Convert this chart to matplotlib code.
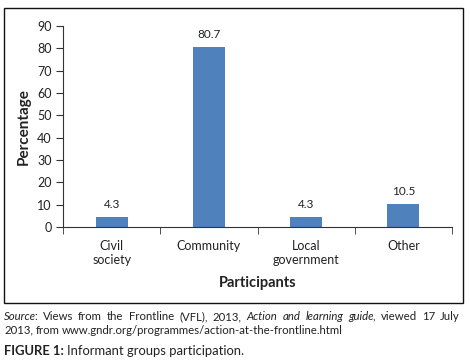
import matplotlib
matplotlib.use("Agg")
import matplotlib.pyplot as plt
from matplotlib.patches import Rectangle

categories = ["Civil\nsociety", "Community", "Local\ngovernment", "Other"]
values = [4.3, 80.7, 4.3, 10.5]
value_labels = ["4.3", "80.7", "4.3", "10.5"]
yticks = [0, 10, 20, 30, 40, 50, 60, 70, 80, 90]

BAR_COLOR = "#4F81BD"
TEXT = "#222222"

plt.rcParams["font.family"] = ["Lato", "DejaVu Sans"]

fig = plt.figure(figsize=(4.7, 3.62), dpi=100)
W, H = 470, 362

# outer frame of the chart
fig.patches.append(Rectangle((4 / W, 1 - 303 / H), 459 / W, 295 / H,
                             transform=fig.transFigure, fill=False,
                             edgecolor="#111111", linewidth=1.0))

ax = fig.add_axes([63 / W, 1 - 227 / H, (452 - 63) / W, (227 - 26) / H])
x = list(range(len(categories)))
ax.bar(x, values, width=0.33, color=BAR_COLOR)
for xi, v, lab in zip(x, values, value_labels):
    ax.annotate(lab, (xi, v), xytext=(0, 5), textcoords="offset points",
                ha="center", va="bottom", fontsize=8.5, color=TEXT)

ax.set_xlim(-0.5, len(categories) - 0.5)
ax.set_ylim(0, 90)
ax.set_yticks(yticks)
ax.set_xticks(x)
ax.set_xticklabels(categories, fontsize=9, color=TEXT, linespacing=1.3)
ax.set_xticks([i - 0.5 for i in range(len(categories) + 1)], minor=True)
ax.tick_params(axis="x", which="major", length=0, pad=9)
ax.tick_params(axis="x", which="minor", length=5, direction="out", color="#333333")
ax.tick_params(axis="y", length=5, direction="out", labelsize=9, labelcolor=TEXT,
               color="#333333", pad=3)
for s in ["top", "right"]:
    ax.spines[s].set_visible(False)
for s in ["left", "bottom"]:
    ax.spines[s].set_color("#333333")

ax.set_ylabel("Percentage", fontsize=11, fontweight="bold", color=TEXT, labelpad=5)
ax.set_xlabel("Participants", fontsize=10.5, fontweight="bold", color=TEXT, labelpad=7)

# source note, laid out word by word
fig.canvas.draw()
renderer = fig.canvas.get_renderer()
SRC_SIZE = 8.2


def words_of(pieces):
    out = []
    for txt, style in pieces:
        for w in txt.split(" "):
            if w:
                out.append((w, style))
    return out


def line(pieces, x0, x1, y0, justify):
    items = []
    for w, style in words_of(pieces):
        t = fig.text(0, 1 - y0 / H, w, fontsize=SRC_SIZE, style=style,
                     color=TEXT, va="center", ha="left")
        items.append((t, t.get_window_extent(renderer).width, w))
    # punctuation glued to the previous word does not get a gap
    n_gaps = sum(1 for i, (_, _, w) in enumerate(items) if i > 0 and w[0] not in ",:")
    total = sum(wd for _, wd, _ in items)
    gap = (x1 - x0 - total) / n_gaps if justify else 2.3
    xp = x0
    for i, (t, wd, w) in enumerate(items):
        if i > 0 and w[0] not in ",:":
            xp += gap
        elif i > 0:
            xp -= 1.5
        t.set_x(xp / W)
        xp += wd


line([("Source", "italic"), (":", "normal"),
      ("Views from the Frontline (VFL), 2013,", "normal"),
      ("Action and learning guide", "italic"), (", viewed 17 July", "normal")],
     4, 463, 317, True)
line([("2013, from www.gndr.org/programmes/action-at-the-frontline.html", "normal")],
     4, 463, 330, False)

t = fig.text(4 / W, 1 - 351 / H, "FIGURE 1:", fontsize=9.4, fontweight="bold",
             color=TEXT, va="center", ha="left")
bb = t.get_window_extent(renderer)
fig.text(4 / W + (bb.width + 3) / W, 1 - 351 / H, "Informant groups participation.",
         fontsize=9.4, color=TEXT, va="center", ha="left")

fig.savefig("out.png", dpi=100)
